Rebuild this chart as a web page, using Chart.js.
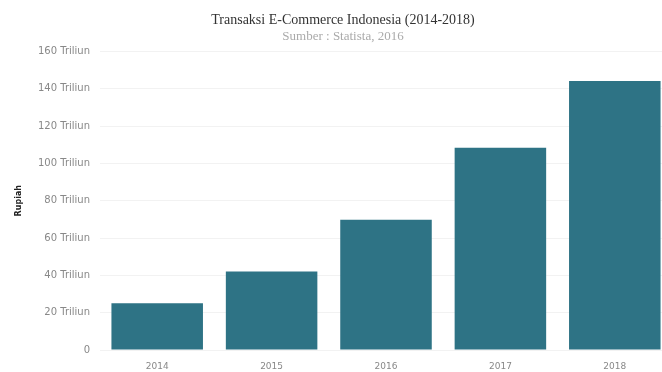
<!DOCTYPE html>
<html>
<head>
<meta charset="utf-8">
<script src="https://cdn.jsdelivr.net/npm/chart.js@4"></script>
<style>
  html, body { margin: 0; padding: 0; background: #fff; overflow: hidden; }
  #wrap { width: 676px; height: 372px; }
</style>
</head>
<body>
<div id="wrap"><canvas id="ecomChart" width="676" height="372"></canvas></div>
<script>
// Transaksi e-commerce Indonesia, dalam triliun rupiah
const years = ['2014', '2015', '2016', '2017', '2018'];
const transaksi = [25.1, 42, 69.8, 108.4, 144.1];
const yTicks = [0, 20, 40, 60, 80, 100, 120, 140, 160];

const ctx = document.getElementById('ecomChart').getContext('2d');

new Chart(ctx, {
    type: 'bar',
    data: {
        labels: years,
        datasets: [
            {
                label: 'Transaksi',
                data: transaksi,
                backgroundColor: '#2e7385',
                barPercentage: 0.8,
                categoryPercentage: 1.0,
            },
        ],
    },
    options: {
        responsive: false,
        animation: false,
        layout: { padding: { top: 0, left: 14, right: 4, bottom: 0 } },
        plugins: {
            legend: { display: false },
            tooltip: { enabled: false },
            title: {
                display: true,
                text: 'Transaksi E-Commerce Indonesia (2014-2018)',
                color: '#333',
                font: { family: 'Liberation Serif', size: 14, weight: 'normal' },
                padding: { top: 12, bottom: 0 },
            },
            subtitle: {
                display: true,
                text: 'Sumber : Statista, 2016',
                color: '#aaa',
                font: { family: 'Liberation Serif', size: 13 },
                padding: { top: 0, bottom: 7 },
            },
        },
        scales: {
            y: {
                min: 0,
                max: 160,
                afterBuildTicks: (axis) => {
                    axis.ticks = yTicks.map((v) => ({ value: v }));
                },
                afterFit: (axis) => {
                    axis.width = 86;
                },
                ticks: {
                    color: '#888',
                    font: { family: 'DejaVu Sans', size: 10 },
                    padding: 10,
                    callback: (v) => (v === 0 ? '0' : v + ' Triliun'),
                },
                grid: { color: 'rgba(0,0,0,0.05)', drawTicks: false },
                border: { display: false },
                title: {
                    display: true,
                    text: 'Rupiah',
                    color: '#222',
                    font: { family: 'DejaVu Sans', size: 8, weight: 'bold' },
                    padding: { top: 0, bottom: 0 },
                },
            },
            x: {
                afterFit: (axis) => {
                    axis.height = 22;
                },
                ticks: {
                    color: '#888',
                    font: { family: 'DejaVu Sans', size: 9 },
                    padding: 11,
                },
                grid: { display: false, drawTicks: false },
                border: { display: false },
            },
        },
    },
});
</script>
</body>
</html>
